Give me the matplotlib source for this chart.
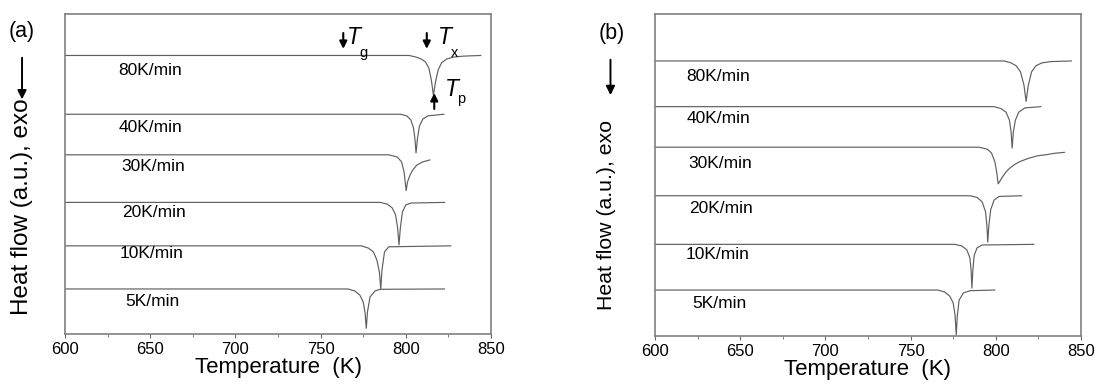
import matplotlib.pyplot as plt
from matplotlib.ticker import MultipleLocator

plt.rcParams['font.family'] = ['Liberation Sans', 'DejaVu Sans']

rates = ['80K/min', '40K/min', '30K/min', '20K/min', '10K/min', '5K/min']

# --- (a) DSC traces: temperature (K) and heat flow (a.u.) ---
T_a80 = [600, 802, 806, 809, 811.5, 813.5, 815, 816.2, 817.5, 819, 821, 824, 828, 834, 844]
hf_a80 = [8.71, 8.71, 8.66, 8.60, 8.51, 8.32, 7.94, 7.47, 7.90, 8.26, 8.48, 8.60, 8.66, 8.69, 8.71]

T_a40 = [600, 797, 800.5, 803, 804.5, 805.3, 806, 806.8, 808, 810, 813, 822.3]
hf_a40 = [6.87, 6.87, 6.82, 6.69, 6.44, 6.13, 5.66, 6.09, 6.50, 6.72, 6.82, 6.87]

T_a30 = [600, 790, 795, 797.5, 799, 800.2, 801, 802.5, 804, 806.5, 810, 814.1]
hf_a30 = [5.60, 5.60, 5.53, 5.38, 5.06, 4.48, 4.75, 4.97, 5.12, 5.28, 5.38, 5.44]

T_a20 = [600, 785, 789, 792, 794, 795.2, 796, 796.8, 798, 800, 803, 822.7]
hf_a20 = [4.11, 4.11, 4.06, 3.94, 3.72, 3.31, 2.78, 3.31, 3.81, 4.03, 4.09, 4.11]

T_a10 = [600, 774, 778, 781, 783, 784.5, 785.3, 786, 787.5, 790, 826.4]
hf_a10 = [2.75, 2.75, 2.68, 2.56, 2.31, 1.93, 1.40, 1.99, 2.56, 2.72, 2.75]

T_a5 = [600, 766, 770, 773, 775, 776.1, 776.8, 777.5, 779, 782, 785, 822.7]
hf_a5 = [1.40, 1.40, 1.34, 1.21, 0.99, 0.65, 0.17, 0.68, 1.15, 1.34, 1.39, 1.40]

# --- (b) DSC traces ---
T_b80 = [600, 805, 809, 812, 814.5, 816.5, 817.8, 819, 821, 823.5, 827, 832, 844.3]
hf_b80 = [8.54, 8.54, 8.48, 8.39, 8.20, 7.80, 7.28, 7.76, 8.20, 8.39, 8.48, 8.52, 8.54]

T_b40 = [600, 799, 803, 806, 808, 809, 809.6, 810.3, 811.5, 813.5, 817, 826.4]
hf_b40 = [7.12, 7.12, 7.06, 6.95, 6.70, 6.33, 5.83, 6.33, 6.70, 6.95, 7.08, 7.12]

T_b30 = [600, 790, 795, 797.5, 799.5, 800.7, 801.4, 802.5, 804, 806, 808, 811, 814,
         819, 824.2, 830, 834.5, 840.3]
hf_b30 = [5.86, 5.86, 5.80, 5.68, 5.40, 5.03, 4.72, 4.81, 4.94, 5.09, 5.20, 5.32, 5.41,
          5.51, 5.59, 5.63, 5.67, 5.70]

T_b20 = [600, 785, 789, 792, 794, 794.8, 795.3, 795.9, 797, 799, 802, 815.1]
hf_b20 = [4.35, 4.35, 4.30, 4.16, 3.85, 3.41, 2.91, 3.41, 3.91, 4.22, 4.33, 4.35]

T_b10 = [600, 776, 780, 783, 784.8, 785.5, 786, 786.5, 787.3, 789, 792, 822.3]
hf_b10 = [2.84, 2.84, 2.79, 2.67, 2.42, 2.05, 1.48, 1.99, 2.49, 2.73, 2.82, 2.84]

T_b5 = [600, 766, 770, 773, 775, 776.1, 776.8, 777.4, 778.5, 781, 785, 799.4]
hf_b5 = [1.42, 1.42, 1.36, 1.23, 1.02, 0.64, 0.02, 0.61, 1.11, 1.33, 1.40, 1.42]

# characteristic temperatures marked on the 80 K/min trace of (a)
Tg, Tx, Tp = 763.3, 812.3, 816.7

# where the rate labels sit (data coords)
lab_x_a = [650, 650, 652, 652, 651, 651.5]
lab_y_a = [8.23, 6.45, 5.23, 3.79, 2.50, 1.00]
lab_x_b = [637, 637, 638.5, 638.5, 637, 637.7]
lab_y_b = [8.05, 6.76, 5.36, 3.94, 2.51, 1.01]

curves_a = [(T_a80, hf_a80), (T_a40, hf_a40), (T_a30, hf_a30),
            (T_a20, hf_a20), (T_a10, hf_a10), (T_a5, hf_a5)]
curves_b = [(T_b80, hf_b80), (T_b40, hf_b40), (T_b30, hf_b30),
            (T_b20, hf_b20), (T_b10, hf_b10), (T_b5, hf_b5)]

fig = plt.figure(figsize=(10.96, 3.90), dpi=100)
ax_a = fig.add_axes([0.0593, 0.1444, 0.3887, 0.819])
ax_b = fig.add_axes([0.5976, 0.1392, 0.3887, 0.8249])


def draw_panel(ax, curves, lab_x, lab_y):
    for (T, hf), name, lx, ly in zip(curves, rates, lab_x, lab_y):
        ax.plot(T, hf, color='#5f5f5f', lw=0.85)
        ax.text(lx, ly, name, ha='center', va='center', fontsize=12.5)
    ax.set_xlim(600, 850)
    ax.set_ylim(0, 10)
    ax.set_yticks([])
    ax.xaxis.set_major_locator(MultipleLocator(50))
    ax.xaxis.set_minor_locator(MultipleLocator(25))
    ax.tick_params(axis='x', which='both', direction='out', color='#666666',
                   labelsize=12, pad=3)
    ax.tick_params(axis='x', which='major', length=3)
    ax.tick_params(axis='x', which='minor', length=2.5)
    for sp in ax.spines.values():
        sp.set_color('#808080')
        sp.set_linewidth(1.2)
    ax.set_xlabel('Temperature  (K)', fontsize=16, labelpad=0)


draw_panel(ax_a, curves_a, lab_x_a, lab_y_a)
draw_panel(ax_b, curves_b, lab_x_b, lab_y_b)

# Tg / Tx / Tp markers
arr = dict(arrowstyle='-|>', color='black', lw=1.5, mutation_scale=11)
ax_a.annotate('', xy=(Tg, 8.83), xytext=(Tg, 9.50), arrowprops=arr)
ax_a.annotate('', xy=(Tx, 8.83), xytext=(Tx, 9.50), arrowprops=arr)
ax_a.annotate('', xy=(Tp, 7.62), xytext=(Tp, 6.95), arrowprops=arr)
for x0, sub, ys in [(765.3, 'g', 8.80), (819.1, 'x', 8.80), (823.0, 'p', 7.34)]:
    yT = 9.27 if sub != 'p' else 7.63
    ax_a.text(x0, yT, 'T', style='italic', fontsize=16.5, ha='left', va='center')
    ax_a.text(x0 + 7.6 if sub != 'p' else x0 + 7.2, ys, sub, fontsize=10.5,
              ha='left', va='center')

# panel letters, exo arrows and y labels
fig.text(0.0201, 0.918, '(a)', fontsize=15.5, ha='center', va='center')
fig.text(0.5584, 0.915, '(b)', fontsize=15.5, ha='center', va='center')
farr = dict(arrowstyle='-|>', color='black', lw=1.4, mutation_scale=13)
ax_a.annotate('', xy=(0.0201, 0.738), xytext=(0.0201, 0.859),
              xycoords='figure fraction', textcoords='figure fraction',
              arrowprops=farr, annotation_clip=False)
ax_b.annotate('', xy=(0.5570, 0.749), xytext=(0.5570, 0.854),
              xycoords='figure fraction', textcoords='figure fraction',
              arrowprops=farr, annotation_clip=False)
fig.text(0.0198, 0.469, 'Heat flow (a.u.), exo', rotation=90, fontsize=17.5,
         ha='center', va='center')
fig.text(0.5536, 0.449, 'Heat flow (a.u.), exo', rotation=90, fontsize=15.3,
         ha='center', va='center')

fig.savefig('out.png', dpi=100)
